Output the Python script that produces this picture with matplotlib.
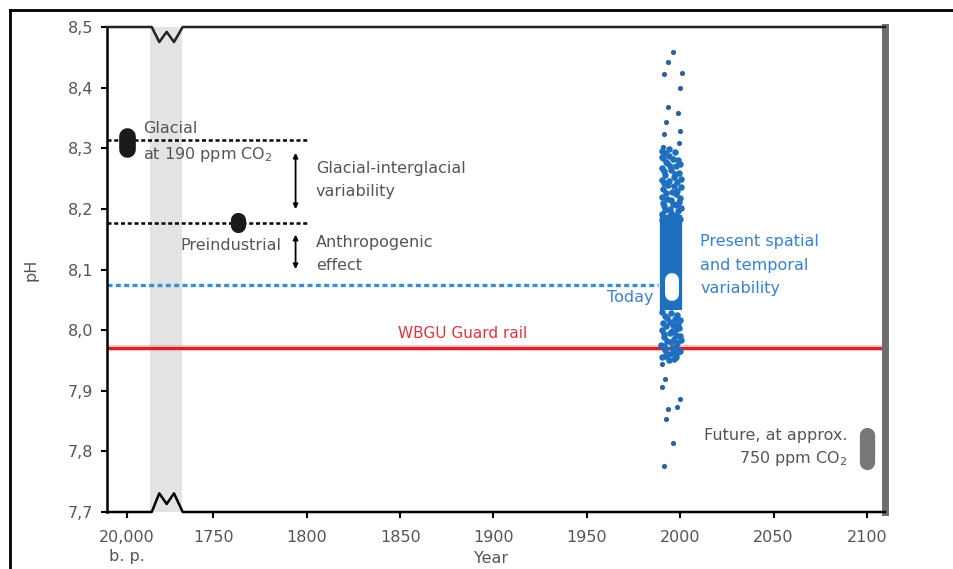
import matplotlib.pyplot as plt
from matplotlib.lines import Line2D

# eje x: el tramo "20.000 b. p." va comprimido a la izquierda del corte
year_ticks = [1703.8, 1750, 1800, 1850, 1900, 1950, 2000, 2050, 2100]
year_labels = ['20,000\nb. p.', '1750', '1800', '1850', '1900', '1950', '2000', '2050', '2100']
ph_ticks = [7.7, 7.8, 7.9, 8.0, 8.1, 8.2, 8.3, 8.4, 8.5]
ph_labels = ['7,7', '7,8', '7,9', '8,0', '8,1', '8,2', '8,3', '8,4', '8,5']

# niveles de referencia
glacial_year = 1703.8
glacial_ph = [8.299, 8.321]
glacial_level = 8.313
preind_year = 1763.0
preind_ph = [8.173, 8.181]
preind_level = 8.177
today_year = 1995.7
today_ph = [8.060, 8.083]
today_level = 8.074
guard_rail_ph = 7.971
future_year = 2100
future_ph = [7.782, 7.827]
present_year = 1995.3
present_ph = [8.033, 8.190]

# variabilidad actual: puntos sueltos
sparse_year = [1996.2, 1993.5, 1991.4, 2001.0, 2000.0, 1993.5, 1999.0, 1992.5, 2000.0,
               1991.4, 1999.5, 1991.0,
               1990.3, 1991.9, 1990.3, 2000.0, 1998.4, 1993.5, 1992.5, 1996.2, 1991.4]
sparse_ph = [8.459, 8.442, 8.422, 8.424, 8.400, 8.368, 8.358, 8.343, 8.328,
             8.323, 8.309, 8.302,
             7.944, 7.919, 7.906, 7.886, 7.873, 7.870, 7.853, 7.814, 7.776]

# variabilidad actual: zonas densas arriba y abajo de la barra
dense_year = [1990.5, 1992.0, 1994.0, 1991.0, 1999.0, 1993.0, 1997.5, 1990.5, 1995.0,
              1999.5, 1992.0, 1996.5, 1990.0, 1998.5, 1993.5, 2000.5, 1991.0, 1995.5,
              1998.0, 1990.5, 1993.0, 1999.5, 1996.0, 1991.5, 1994.5, 1999.0, 1990.0,
              1997.0, 2000.0, 1992.5, 1995.5,
              1994.0, 1997.0, 1990.0, 1996.0, 1992.5, 2000.0, 1994.5, 1991.5, 1997.0,
              2000.5, 1994.0, 1991.5, 1996.5, 1998.5, 1992.5, 2000.0, 1995.0, 1991.0,
              1997.5, 2000.5, 1992.0, 1995.0, 1998.0, 1993.5, 1990.5, 1998.5, 1996.5,
              1990.0, 1998.5, 1993.0, 2000.0, 1991.0, 1996.0, 1999.5, 1990.5, 1994.5,
              1998.0, 1991.5, 2000.5, 1995.0, 1989.5, 1997.5, 1992.0, 1999.0, 1994.0,
              1990.5, 1996.5,
              1995.0, 1992.0, 1997.0, 1994.5, 1999.0, 1992.5, 1997.5, 1995.5, 1991.5,
              2000.0, 1996.5, 1993.0, 1998.5, 1991.5, 1995.5, 2000.0, 1996.0, 1992.0,
              1998.0, 1994.0]
dense_ph = [8.296, 8.292, 8.288, 8.284, 8.280, 8.276, 8.271, 8.268, 8.264,
            8.260, 8.256, 8.252, 8.248, 8.244, 8.240, 8.236, 8.232, 8.228,
            8.224, 8.220, 8.216, 8.212, 8.208, 8.204, 8.200, 8.196, 8.192,
            8.188, 8.184, 8.180, 8.176,
            8.298, 8.294, 8.286, 8.282, 8.278, 8.274, 8.270, 8.262, 8.258,
            8.250, 8.246, 8.242, 8.238, 8.230, 8.226, 8.218, 8.214, 8.210,
            8.206, 8.202, 8.198, 8.194, 8.190, 8.186, 8.182, 8.178, 8.174,
            8.030, 8.025, 8.020, 8.016, 8.012, 8.008, 8.004, 8.000, 7.996,
            7.992, 7.988, 7.984, 7.980, 7.976, 7.972, 7.968, 7.964, 7.960,
            7.956, 7.952,
            8.028, 8.024, 8.018, 8.014, 8.010, 8.006, 8.002, 7.998, 7.994,
            7.990, 7.986, 7.982, 7.978, 7.974, 7.970, 7.966, 7.962, 7.958,
            7.956, 7.950]

gris = '#555555'
azul = '#1f6fc0'
azul_txt = '#3a80d0'
rojo = '#d8202a'

plt.rcParams['font.family'] = 'DejaVu Sans'

fig = plt.figure(figsize=(9.54, 5.69), dpi=100)
ax = fig.add_axes([107/954, 1 - 512/569, 778/954, 485/569])

ax.set_xlim(1693, 2109.7)
ax.set_ylim(7.7, 8.5)

# franja del corte
ax.axvspan(1716.1, 1733.3, color='#e3e3e3', lw=0, zorder=0)

# lineas de referencia
ax.plot([1693, 1800.5], [glacial_level, glacial_level], color='black', lw=1.8, ls=(0, (1.6, 1.1)))
ax.plot([1693, 1800.5], [preind_level, preind_level], color='black', lw=1.8, ls=(0, (1.6, 1.1)))
ax.plot([1693, 1988], [today_level, today_level], color='#3a8fd0', lw=2.4, ls=(0, (1.5, 1.0)))
ax.axhline(guard_rail_ph, color='#f0a0a8', lw=4.5, alpha=0.6)
ax.axhline(guard_rail_ph, color=rojo, lw=2.2)

# marcas de glacial, preindustrial y futuro
ax.plot([glacial_year] * 2, glacial_ph, color='#1a1a1a', lw=12, solid_capstyle='round')
ax.plot([preind_year] * 2, preind_ph, color='#1a1a1a', lw=11, solid_capstyle='round')
ax.plot([future_year] * 2, future_ph, color='#777777', lw=11, solid_capstyle='round')

# variabilidad actual
ax.scatter(sparse_year, sparse_ph, s=14, color='#2d62a0', lw=0, zorder=3)
ax.scatter(dense_year, dense_ph, s=22, color=azul, lw=0, zorder=3)
ax.plot([present_year] * 2, present_ph, color=azul, lw=16, solid_capstyle='butt', zorder=3)
ax.plot([today_year] * 2, today_ph, color='white', lw=10, solid_capstyle='round', zorder=4)

# flechas
ax.annotate('', xy=(1794, glacial_level - 0.016), xytext=(1794, preind_level + 0.018),
            arrowprops=dict(arrowstyle='<|-|>', color='black', lw=1.3, mutation_scale=7))
ax.annotate('', xy=(1794, preind_level - 0.015), xytext=(1794, today_level + 0.022),
            arrowprops=dict(arrowstyle='<|-|>', color='black', lw=1.3, mutation_scale=7))

# textos
fs = 11.5
ax.text(1712.4, 8.333, 'Glacial', color=gris, fontsize=fs, va='center')
ax.text(1712.4, 8.289, 'at 190 ppm CO$_2$', color=gris, fontsize=fs, va='center')
ax.text(1786.6, 8.139, 'Preindustrial', color=gris, fontsize=fs, va='center', ha='right')
ax.text(1804.8, 8.267, 'Glacial-interglacial', color=gris, fontsize=fs, va='center')
ax.text(1804.8, 8.228, 'variability', color=gris, fontsize=fs, va='center')
ax.text(1804.8, 8.145, 'Anthropogenic', color=gris, fontsize=fs, va='center')
ax.text(1804.8, 8.107, 'effect', color=gris, fontsize=fs, va='center')
ax.text(2010.8, 8.146, 'Present spatial', color=azul_txt, fontsize=fs, va='center')
ax.text(2010.8, 8.107, 'and temporal', color=azul_txt, fontsize=fs, va='center')
ax.text(2010.8, 8.069, 'variability', color=azul_txt, fontsize=fs, va='center')
ax.text(1985.5, 8.053, 'Today', color=azul_txt, fontsize=fs, va='center', ha='right')
ax.text(1883.7, 7.995, 'WBGU Guard rail', color='#e03545', fontsize=11, va='center', ha='center')
ax.text(2089.8, 7.827, 'Future, at approx.', color=gris, fontsize=fs, va='center', ha='right')
ax.text(2089.8, 7.789, '750 ppm CO$_2$', color=gris, fontsize=fs, va='center', ha='right')

# ejes
ax.set_xticks(year_ticks)
ax.set_xticklabels(year_labels, linespacing=1.35)
ax.set_yticks(ph_ticks)
ax.set_yticklabels(ph_labels)
ax.tick_params(axis='both', colors='black', labelcolor=gris, labelsize=fs,
               length=4, width=1.5, direction='out', pad=6)
ax.tick_params(axis='x', pad=9)
ax.set_ylabel('pH', color=gris, fontsize=fs)
ax.yaxis.set_label_coords(-0.088, 0.5)
ax.set_xlabel('Year', color=gris, fontsize=fs, va='center')
ax.xaxis.set_label_coords(0.494, -0.096)

ax.spines['left'].set_linewidth(1.8)
ax.spines['right'].set_color('#6e6e6e')
ax.spines['right'].set_linewidth(5)
ax.spines['top'].set_visible(False)
ax.spines['bottom'].set_visible(False)

# lineas superior e inferior con el corte en zigzag
zx = [0, 0.0575, 0.0672, 0.0767, 0.0861, 0.0973, 1.0]
ax.plot(zx, [1, 1, 0.969, 0.990, 0.969, 1, 1], transform=ax.transAxes,
        color='#222222', lw=1.8, clip_on=False, zorder=5)
ax.plot(zx, [0, 0, 0.0385, 0.0165, 0.0385, 0, 0], transform=ax.transAxes,
        color='black', lw=1.8, clip_on=False, zorder=5)

# marco exterior
fig.add_artist(Line2D([10/954, 10/954], [0, 1 - 10/569], transform=fig.transFigure,
                      color='black', lw=2))
fig.add_artist(Line2D([10/954, 953/954], [1 - 10/569, 1 - 10/569], transform=fig.transFigure,
                      color='black', lw=2))

fig.savefig('out.png', dpi=100)
